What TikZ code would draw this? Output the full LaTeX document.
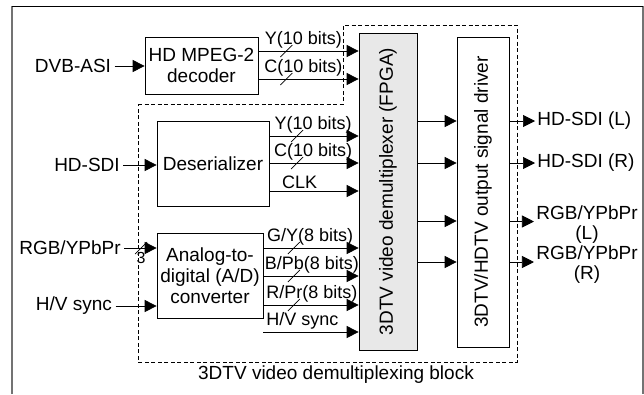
\documentclass[tikz,border=0pt]{standalone}
\usepackage{fontspec}
\setmainfont{Liberation Sans}
\usetikzlibrary{arrows.meta,positioning,calc}
\tikzset{
block/.style = {draw, fill=white, rectangle, align=center, inner sep=0pt},
tmp/.style  = {coordinate},
sig/.style = {inner sep=2pt, font=\fontsize{18}{20}\selectfont},
frame/.style = {draw=black!55, line width=1.6pt},
region/.style = {draw, dash pattern=on 4pt off 2.5pt, line width=0.6pt}
}
\newcommand{\busmark}[1]{\draw (#1) ++(-6,6) -- ++(12,-12);}

\begin{document}
\begin{tikzpicture}[x=1pt, y=-1pt, auto, >={Triangle[length=12pt,width=12pt]},
  font=\fontsize{19}{21}\selectfont, line width=0.7pt]
  \useasboundingbox (0,0) rectangle (644,394);
  % outer frame, open at the bottom
  \draw [frame] (12,394) -- (12,6);
  \draw [frame] (643,6) -- (643,394);
  \draw (12,6) -- (643,6);

  % demultiplexing block
  \draw [region] (138,104) -- (343,104) -- (343,25) -- (517,25) -- (517,362) -- (138,362) -- cycle;
  \node (blocklabel) at (336,375) {3DTV video demultiplexing block};

  \node [block, minimum width=113pt, minimum height=57pt] (decoder) at (201.5,65.5) {HD MPEG-2\\decoder};
  \node [block, minimum width=112pt, minimum height=85pt] (deser)   at (213,163.5)  {Deserializer};
  \node [block, minimum width=106pt, minimum height=85pt] (adc)     at (210,275.5)  {Analog-to-\\digital (A/D)\\converter};
  \node [block, fill=black!9, minimum width=58pt, minimum height=317pt] (fpga) at (388,191.5) {};
  \node [rotate=90] (fpgatext) at (fpga) {3DTV video demultiplexer (FPGA)};
  \node [block, minimum width=52pt, minimum height=310pt] (driver) at (483,192) {};
  \node [rotate=90] (drivertext) at (driver) {3DTV/HDTV output signal driver};

  % inputs
  \node (dvbasi) at (73,66)  {DVB-ASI};
  \node (hdsdi)  at (87,165) {HD-SDI};
  \node (rgbin)  at (70,248) {RGB/YPbPr};
  \node (hvin)   at (74,306) {H/V sync};
  \node [inner sep=0pt, font=\fontsize{16}{18}\selectfont] (rgbwidth) at (141,258) {3};

  \draw [->] (dvbasi) -- (dvbasi -| decoder.west);
  \draw [->] (hdsdi) -- (hdsdi -| deser.west);
  \draw [->] (rgbin) -- coordinate[pos=0.52] (rgbbus) (rgbin -| adc.west);
  \draw [->] (hvin) -- (hvin -| adc.west);
  \busmark{rgbbus}

  % decoder to FPGA
  \draw [->] ([yshift=14.5pt]decoder.east) -- node[sig, above, pos=0.45] (ydec) {Y(10 bits)}
    coordinate[pos=0.28] (ydecbus) ([yshift=14.5pt]decoder.east -| fpga.west);
  \draw [->] ([yshift=-13.5pt]decoder.east) -- node[sig, above, pos=0.45] (cdec) {C(10 bits)}
    coordinate[pos=0.28] (cdecbus) ([yshift=-13.5pt]decoder.east -| fpga.west);
  \busmark{ydecbus}
  \busmark{cdecbus}

  % deserializer to FPGA
  \draw [->] ([yshift=27.5pt]deser.east) -- node[sig, above, pos=0.49] (ydes) {Y(10 bits)}
    coordinate[pos=0.31] (ydesbus) ([yshift=27.5pt]deser.east -| fpga.west);
  \draw [->] ([yshift=0.5pt]deser.east) -- node[sig, above, pos=0.49] (cdes) {C(10 bits)}
    coordinate[pos=0.31] (cdesbus) ([yshift=0.5pt]deser.east -| fpga.west);
  \draw [->] ([yshift=-27.5pt]deser.east) -- node[sig, above, pos=0.34] (clk) {CLK}
    ([yshift=-27.5pt]deser.east -| fpga.west);
  \busmark{ydesbus}
  \busmark{cdesbus}

  % A/D converter to FPGA
  \draw [->] ([yshift=27.5pt]adc.east) -- node[sig, above, pos=0.49] (gy) {G/Y(8 bits)}
    coordinate[pos=0.32] (gybus) ([yshift=27.5pt]adc.east -| fpga.west);
  \draw [->] ([yshift=-0.5pt]adc.east) -- node[sig, above, pos=0.51] (bpb) {B/Pb(8 bits)}
    coordinate[pos=0.32] (bpbbus) ([yshift=-0.5pt]adc.east -| fpga.west);
  \draw [->] ([yshift=-29.5pt]adc.east) -- node[sig, above, pos=0.51] (rpr) {R/Pr(8 bits)}
    coordinate[pos=0.32] (rprbus) ([yshift=-29.5pt]adc.east -| fpga.west);
  \draw [->] ([yshift=-56.5pt]adc.east) -- node[sig, above, pos=0.41] (hvout) {H/V sync}
    ([yshift=-56.5pt]adc.east -| fpga.west);
  \busmark{gybus}
  \busmark{bpbbus}
  \busmark{rprbus}

  % FPGA to driver
  \draw [->] ([yshift=70.5pt]fpga.east) -- ([yshift=70.5pt]fpga.east -| driver.west);
  \draw [->] ([yshift=28.5pt]fpga.east) -- ([yshift=28.5pt]fpga.east -| driver.west);
  \draw [->] ([yshift=-29.5pt]fpga.east) -- ([yshift=-29.5pt]fpga.east -| driver.west);
  \draw [->] ([yshift=-70.5pt]fpga.east) -- ([yshift=-70.5pt]fpga.east -| driver.west);

  % outputs
  \node [sig, anchor=west, font=\fontsize{19}{21}\selectfont] (hdsdil) at (535,121) {HD-SDI (L)};
  \node [sig, anchor=west, font=\fontsize{19}{21}\selectfont] (hdsdir) at (535,163) {HD-SDI (R)};
  \node [sig, align=center, font=\fontsize{19}{20}\selectfont] (rgbl) at (587,225) {RGB/YPbPr\\(L)};
  \node [sig, align=center, font=\fontsize{19}{20}\selectfont] (rgbr) at (587,265) {RGB/YPbPr\\(R)};

  \draw [->] (hdsdil -| driver.east) -- (hdsdil.west);
  \draw [->] (hdsdir -| driver.east) -- (hdsdir.west);
  \draw [->] ([yshift=-29.5pt]driver.east) -- ([yshift=-29.5pt]driver.east -| rgbl.west);
  \draw [->] ([yshift=-70pt]driver.east) -- ([yshift=-70pt]driver.east -| rgbr.west);
\end{tikzpicture}
\end{document}
